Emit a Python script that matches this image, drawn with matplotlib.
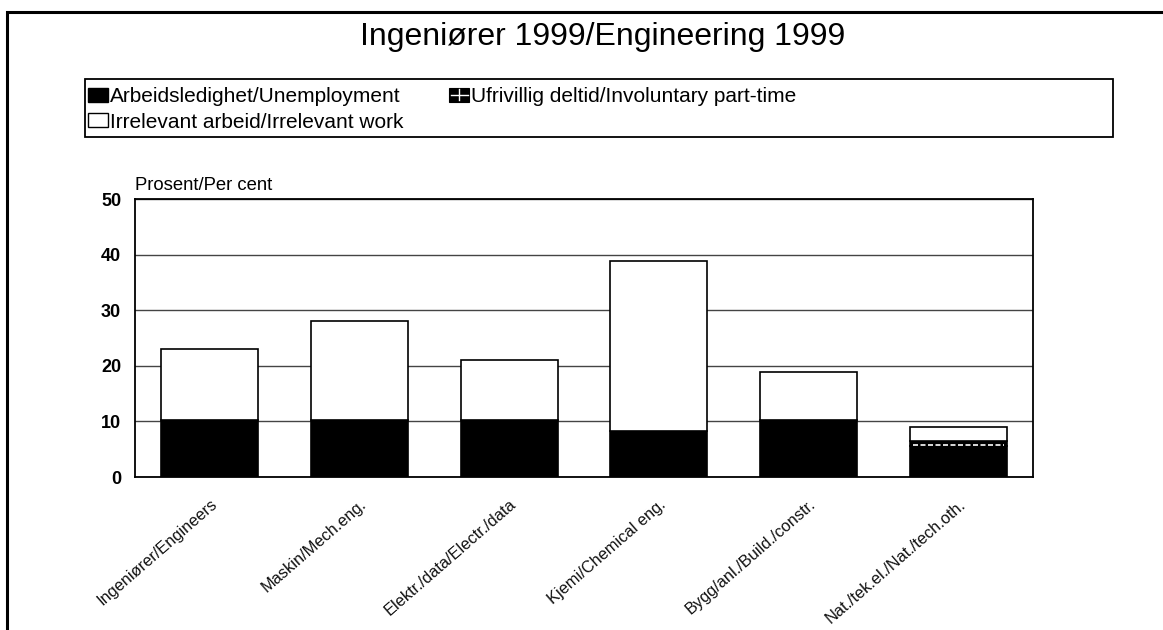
import matplotlib

matplotlib.use("Agg")
import matplotlib.pyplot as plt
from matplotlib.legend_handler import HandlerBase
from matplotlib.lines import Line2D
from matplotlib.patches import Patch, Rectangle

plt.rcParams["font.family"] = ["Liberation Sans", "DejaVu Sans"]

categories = [
    "Ingeniører/Engineers",
    "Maskin/Mech.eng.",
    "Elektr./data/Electr./data",
    "Kjemi/Chemical eng.",
    "Bygg/anl./Build./constr.",
    "Nat./tek.el./Nat./tech.oth.",
]
unemployment = [10.3, 10.3, 10.3, 8.2, 10.3, 5.5]
involuntary = [0.0, 0.0, 0.0, 0.0, 0.0, 1.0]
irrelevant = [12.7, 17.7, 10.7, 30.7, 8.6, 2.5]

y_ticks = [0, 10, 20, 30, 40, 50]


class GridBoxHandler(HandlerBase):
    # black box split by a white cross, like the source legend key
    def create_artists(self, legend, orig_handle, xdescent, ydescent, width, height,
                       fontsize, trans):
        box = Rectangle((-xdescent, -ydescent), width, height, facecolor="black",
                        edgecolor="black", linewidth=0.8, transform=trans)
        cx, cy = -xdescent + width / 2, -ydescent + height / 2
        h = Line2D([-xdescent + 1, -xdescent + width - 1], [cy, cy], color="white",
                   linewidth=1.0, transform=trans)
        v = Line2D([cx, cx], [-ydescent + 1, -ydescent + height - 1], color="white",
                   linewidth=1.0, transform=trans)
        return [box, h, v]


fig = plt.figure(figsize=(11.63, 6.30), dpi=100)
W, H = 1163, 630

# outer frame (open to the right and bottom, as in the source)
fig.add_artist(Rectangle((7 / W, -0.1), 1.2, 1.1 - 12 / H, transform=fig.transFigure,
                         fill=False, edgecolor="black", linewidth=2.2))

fig.text(603 / W, 1 - 37 / H, "Ingeniører 1999/Engineering 1999", ha="center", va="center",
         fontsize=23)

ax = fig.add_axes([135 / W, 1 - 477 / H, (1033 - 135) / W, (477 - 199) / H])
x = list(range(len(categories)))
width = 0.65

ax.bar(x, unemployment, width, color="black", edgecolor="black", linewidth=1.2, zorder=3)
ax.bar(x, involuntary, width, bottom=unemployment, color="black", edgecolor="black",
       linewidth=1.2, zorder=3)
# white dashed hatch line inside the involuntary part-time segment
for xi, u, inv in zip(x, unemployment, involuntary):
    if inv > 0:
        ax.hlines(u + 0.25, xi - width / 2 + 0.02, xi + width / 2 - 0.02, colors="white",
                  linestyles=(0, (3, 1.5)), linewidth=1.2, zorder=4)
irr_bottom = [u + i for u, i in zip(unemployment, involuntary)]
ax.bar(x, irrelevant, width, bottom=irr_bottom, color="white", edgecolor="black",
       linewidth=1.2, zorder=3)

ax.set_ylim(0, 50)
ax.set_xlim(-0.5, len(categories) - 0.5)
ax.set_yticks(y_ticks)
ax.set_yticklabels([str(t) for t in y_ticks], fontsize=13, fontweight="bold")
ax.tick_params(axis="y", length=0, pad=10)
ax.tick_params(axis="x", length=0, pad=14)
ax.set_xticks(x)
ax.set_xticklabels(categories, rotation=41, ha="right", rotation_mode="anchor",
                   fontsize=11.8, color="#111111")
ax.grid(axis="y", color="#444444", linewidth=1.0, zorder=0)
for s in ax.spines.values():
    s.set_linewidth(1.3)
    s.set_color("black")

fig.text(135 / W, 1 - 185 / H, "Prosent/Per cent", ha="left", va="center", fontsize=13.3)

# legend with its own frame
fig.add_artist(Rectangle((85 / W, 1 - 137 / H), (1113 - 85) / W, (137 - 79) / H,
                         transform=fig.transFigure, fill=False, edgecolor="black",
                         linewidth=1.3))
inv_handle = Patch(facecolor="black", label="Ufrivillig deltid/Involuntary part-time")
handles = [
    Patch(facecolor="black", edgecolor="black", label="Arbeidsledighet/Unemployment"),
    Patch(facecolor="white", edgecolor="black", label="Irrelevant arbeid/Irrelevant work"),
    inv_handle,
]
fig.legend(handles=handles, ncol=2, loc="upper left", bbox_to_anchor=(86 / W, 1 - 85 / H),
           frameon=False, fontsize=15, handlelength=0.95, handleheight=0.65,
           handletextpad=0.1, columnspacing=2.2, labelspacing=0.32, borderpad=0.1,
           borderaxespad=0, handler_map={inv_handle: GridBoxHandler()})

fig.savefig("out.png", dpi=100)
